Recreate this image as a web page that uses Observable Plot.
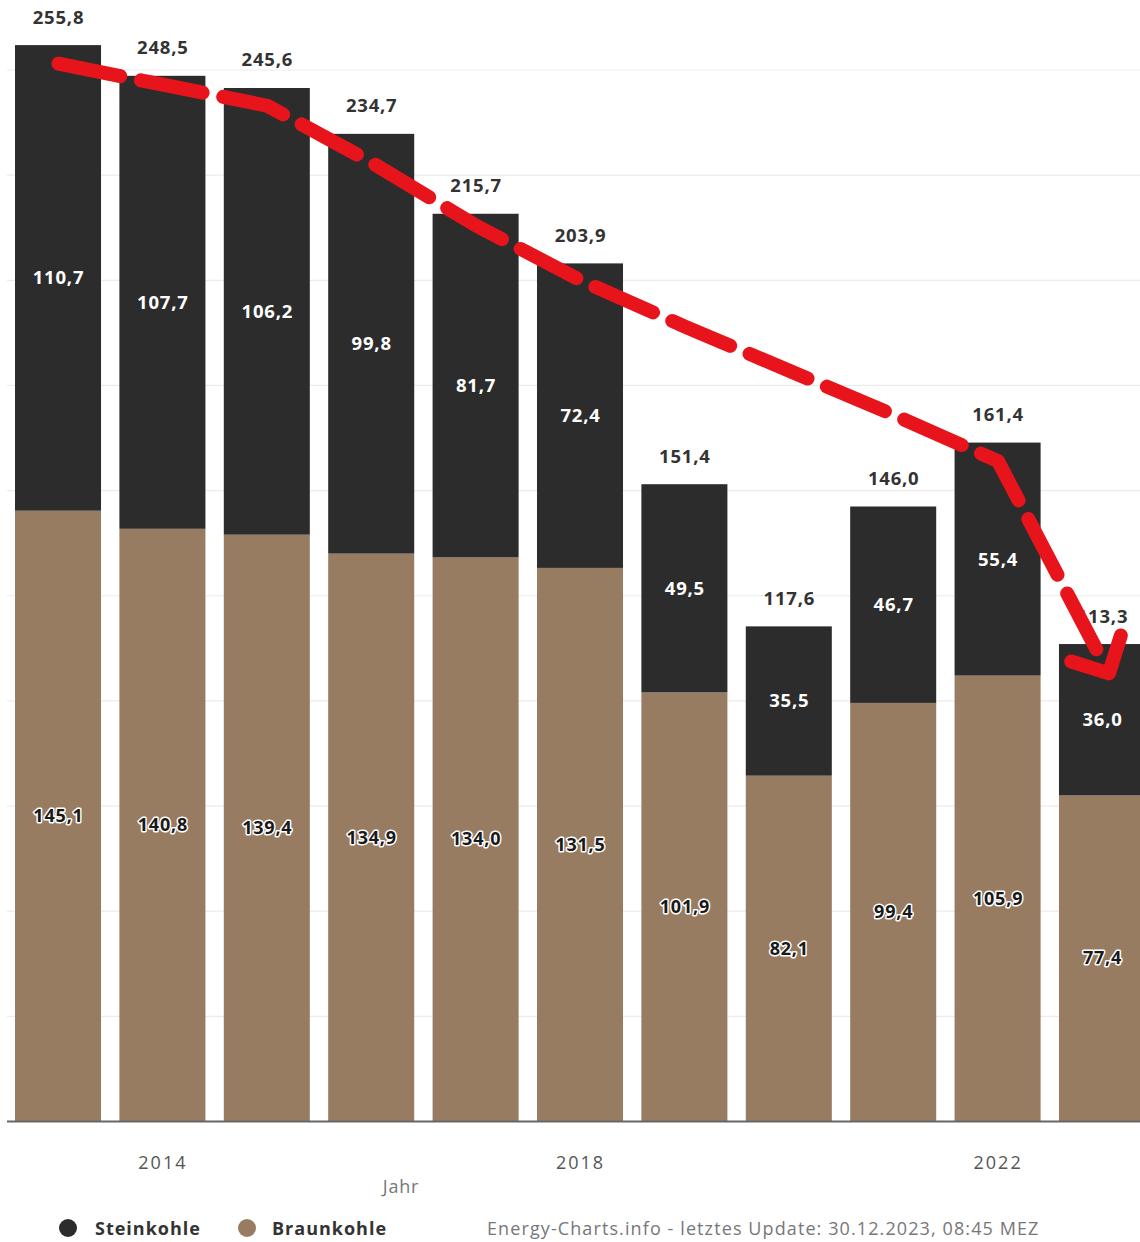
<!DOCTYPE html>
<html>
<head>
<meta charset="utf-8">
<script src="https://cdn.jsdelivr.net/npm/d3@7"></script>
<script src="https://cdn.jsdelivr.net/npm/@observablehq/plot@0.6"></script>
<style>
  body { margin: 0; background: #fff; font-family: "Open Sans", sans-serif; }
  #wrap { width: 1140px; overflow: hidden; position: relative; }
  #chart svg { display: block; overflow: hidden; }
  #chart svg text { letter-spacing: 0.8px; }
  #chart svg g[aria-label="x-axis tick label"] text { letter-spacing: 2px; }
  .legend { position: relative; height: 37px; width: 1140px; }
  .legend .dot { position: absolute; width: 18px; height: 18px; border-radius: 50%; top: 14px; }
  .legend .lab { position: absolute; top: 9px; font-size: 18px; font-weight: 700; color: #333; line-height: 28px; letter-spacing: 1px; }
  .legend .cap { position: absolute; top: 9px; font-size: 18px; color: #777; line-height: 28px; letter-spacing: 1.1px; }
</style>
</head>
<body>
<div id="wrap">
  <div id="chart"></div>
  <div class="legend" id="legend"></div>
</div>
<script>
const years = [2013, 2014, 2015, 2016, 2017, 2018, 2019, 2020, 2021, 2022, 2023];
const braunkohle = [145.1, 140.8, 139.4, 134.9, 134.0, 131.5, 101.9, 82.1, 99.4, 105.9, 77.4];
const steinkohle = [110.7, 107.7, 106.2, 99.8, 81.7, 72.4, 49.5, 35.5, 46.7, 55.4, 36.0];
const totals = [255.8, 248.5, 245.6, 234.7, 215.7, 203.9, 151.4, 117.6, 146.0, 161.4, 113.3];
// red dashed trend arrow drawn over the chart
const trendValues = [251.5, 246.5, 241.5, 228, 213, 200, 189, 178.5, 168, 157, 109.5];
const xTicks = [2014, 2018, 2022];
const yGrid = [0, 25, 50, 75, 100, 125, 150, 175, 200, 225, 250];
const seriesNames = ["Steinkohle", "Braunkohle"];
const seriesColors = ["#2c2c2c", "#987c62"];
const caption = "Energy-Charts.info - letztes Update: 30.12.2023, 08:45 MEZ";
const axisTitle = "Jahr";

const fmt = v => d3.format(".1f")(v).replace(".", ",");

const stacked = years.flatMap((yr, i) => [
  {year: yr, type: "Braunkohle", value: braunkohle[i]},
  {year: yr, type: "Steinkohle", value: steinkohle[i]}
]);
const braunLabels = years.map((yr, i) => ({year: yr, y: braunkohle[i] / 2, text: fmt(braunkohle[i])}));
const steinLabels = years.map((yr, i) => ({year: yr, y: braunkohle[i] + steinkohle[i] / 2, text: fmt(steinkohle[i])}));
const totalLabels = years.map((yr, i) => ({year: yr, y: totals[i], text: fmt(totals[i])}));
const trend = years.map((yr, i) => ({year: yr, value: trendValues[i]}));

const chart = Plot.plot({
  width: 1140,
  height: 1205,
  marginLeft: 7,
  marginRight: 0,
  marginTop: 0,
  marginBottom: 84,
  style: {fontFamily: "Open Sans", background: "#fff"},
  x: {type: "band", domain: years, range: [15, 1145], paddingInner: 0.176, paddingOuter: 0, round: false},
  y: {domain: [0, 250], range: [1121, 69.5], axis: null},
  color: {domain: seriesNames, range: seriesColors},
  marks: [
    Plot.ruleY(yGrid, {stroke: "#ebebeb", strokeWidth: 1.2}),
    Plot.barY(stacked, {x: "year", y: "value", fill: "type"}),
    Plot.ruleY([0], {stroke: "#666", strokeWidth: 2}),
    Plot.text(braunLabels, {x: "year", y: "y", text: "text", fill: "#1a1a1a", stroke: "white", strokeWidth: 3, paintOrder: "stroke", fontSize: 18, fontWeight: 700}),
    Plot.text(steinLabels, {x: "year", y: "y", text: "text", fill: "white", fontSize: 18.5, fontWeight: 700}),
    Plot.text(totalLabels, {x: "year", y: "y", text: "text", dy: -28, fill: "#333", fontSize: 18.5, fontWeight: 700}),
    Plot.axisX(xTicks, {tickSize: 0, tickPadding: 35, fontSize: 18, fill: "#555", label: null, tickFormat: d => String(d)}),
    Plot.text([axisTitle], {frameAnchor: "bottom", dx: -173, dy: 71, fontSize: 18, fill: "#777"}),
    Plot.line(trend, {x: "year", y: "value", stroke: "#e8141c", strokeWidth: 14, strokeDasharray: "63,21", strokeLinecap: "round", strokeLinejoin: "round", markerEnd: "arrow"})
  ]
});
document.getElementById("chart").appendChild(chart);

const legend = document.getElementById("legend");
const items = [
  {name: seriesNames[0], color: seriesColors[0], dot: 59, lab: 95},
  {name: seriesNames[1], color: seriesColors[1], dot: 238, lab: 272}
];
for (const it of items) {
  const d = document.createElement("div");
  d.className = "dot"; d.style.left = it.dot + "px"; d.style.background = it.color;
  legend.appendChild(d);
  const l = document.createElement("div");
  l.className = "lab"; l.style.left = it.lab + "px"; l.textContent = it.name;
  legend.appendChild(l);
}
const c = document.createElement("div");
c.className = "cap"; c.style.left = "487px"; c.textContent = caption;
legend.appendChild(c);
</script>
</body>
</html>
